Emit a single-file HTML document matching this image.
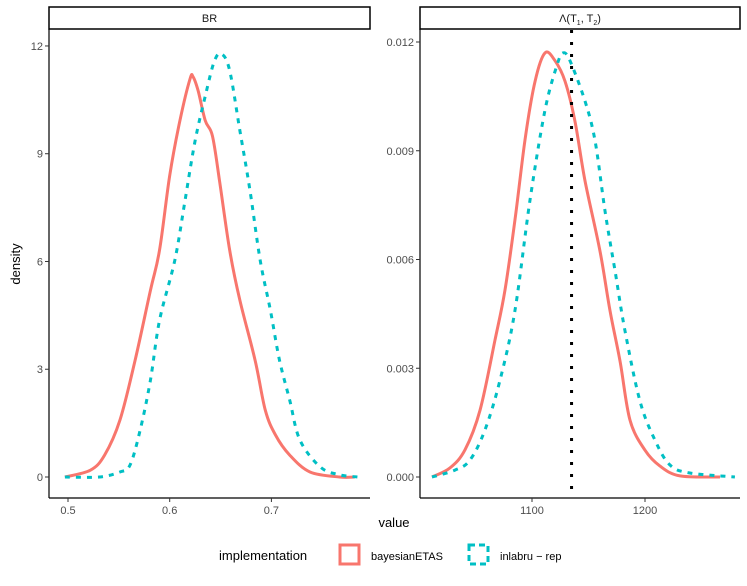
<!DOCTYPE html>
<html><head><meta charset="utf-8"><style>
body{margin:0;background:#fff;font-family:"Liberation Sans",sans-serif}
svg text{font-family:"Liberation Sans",sans-serif}
</style></head><body>
<svg id="c" width="747" height="581" xmlns="http://www.w3.org/2000/svg"></svg>
<script>
const brRedX=[0.497,0.522,0.536,0.551,0.566,0.581,0.590,0.600,0.610,0.620,0.623,0.628,0.635,0.642,0.649,0.659,0.669,0.684,0.694,0.704,0.718,0.738,0.767,0.782];
const brRedY=[0,0.19,0.61,1.58,3.25,5.19,6.31,8.39,9.92,11.08,11.14,10.75,9.92,9.5,8.25,6.31,4.92,3.25,1.86,1.17,0.61,0.14,0,0];
const brBlueX=[0.497,0.531,0.551,0.561,0.571,0.581,0.590,0.605,0.615,0.625,0.635,0.644,0.651,0.659,0.669,0.679,0.689,0.699,0.708,0.718,0.728,0.748,0.767,0.785];
const brBlueY=[0,0,0.14,0.33,1.31,2.69,4.36,6.03,7.69,9.36,10.61,11.58,11.78,11.31,9.64,7.97,6.03,4.64,3.25,2.14,1.03,0.28,0.06,0];
const lamRedX=[1011.5,1027.4,1040.7,1054,1067.3,1076.1,1085,1093.8,1102.7,1111.5,1120.4,1129.2,1138,1146.9,1160.2,1169,1177.9,1186.7,1200,1213.3,1231,1266.4];
const lamRedY=[0,0.00025,0.00075,0.00184,0.00378,0.00516,0.0071,0.0093,0.01092,0.0117,0.01148,0.01092,0.00982,0.00817,0.00623,0.00459,0.0032,0.00157,0.00074,0.0003,0.00003,0];
const lamBlueX=[1011.5,1031.9,1045.1,1058.4,1071.7,1085,1098.2,1111.5,1122.1,1127.4,1133.6,1146.9,1155.8,1164.6,1173.5,1182.3,1195.6,1208.8,1222.1,1239.8,1279.6];
const lamBlueY=[0,0.00019,0.00047,0.0013,0.00267,0.0046,0.00764,0.01012,0.01136,0.0117,0.01148,0.01037,0.00927,0.00734,0.00568,0.00403,0.00209,0.00102,0.00033,0.00011,0];
const trueValue=[1135];
const brXTicks=[0.5,0.6,0.7];
const brYTicks=[0,3,6,9,12];
const lamXTicks=[1100,1200];
const lamYTicks=[0,0.003,0.006,0.009,0.012];

const NS="http://www.w3.org/2000/svg";
const svg=document.getElementById('c');
function mk(t,a,txt){const e=document.createElementNS(NS,t);for(const k in a)e.setAttribute(k,a[k]);if(txt!==undefined)e.textContent=txt;svg.appendChild(e);return e;}
const RED="#F8766D",BLUE="#00BFC4";
const y0=477;
const bx=v=>68+(v-0.5)*1017, by=v=>y0-v*35.92;
const lx=v=>532+(v-1100)*1.13, ly=v=>y0-v*36250;

function panel(L,R,name){
  let s=mk('rect',{x:L,y:7,width:R-L,height:22,fill:'#fff',stroke:'#000','stroke-width':1.5});
  
  
}
panel(49,370,'br');
let t=mk('text',{x:209.5,y:22,'font-size':11,'text-anchor':'middle',fill:'#1a1a1a'},'BR');

panel(420,740,'lambda');
t=mk('text',{x:580,y:22,'font-size':11,'text-anchor':'middle',fill:'#1a1a1a'});
t.innerHTML='Λ(T<tspan font-size="7" dy="3">1</tspan><tspan dy="-3">, T</tspan><tspan font-size="7" dy="3">2</tspan><tspan dy="-3">)</tspan>';


function axes(L,R,xs,xt,ys,yt,fmt,name){
  let a=mk('line',{x1:L,y1:29,x2:L,y2:498,stroke:'#000','stroke-width':1.2});
  
  a=mk('line',{x1:L,y1:498,x2:R,y2:498,stroke:'#000','stroke-width':1.2});
  
  xt.forEach(v=>{const x=xs(v);mk('line',{x1:x,y1:498,x2:x,y2:502,stroke:'#333'});
    const e=mk('text',{x:x,y:514,'font-size':11,'text-anchor':'middle',fill:'#4d4d4d'},String(v));
    });
  yt.forEach(v=>{const y=ys(v);mk('line',{x1:L-4,y1:y,x2:L,y2:y,stroke:'#333'});
    const e=mk('text',{x:L-6,y:y+4,'font-size':11,'text-anchor':'end',fill:'#4d4d4d'},fmt(v));
    });
}
axes(49,370,bx,brXTicks,by,brYTicks,v=>String(v),'br');
axes(420,740,lx,lamXTicks,ly,lamYTicks,v=>v.toFixed(3),'lambda');

function line(xs,ys,X,Y,col,dash,name){
  const P=X.map((v,i)=>[xs(v),ys(Y[i])]);
  let d='M'+P[0][0].toFixed(1)+','+P[0][1].toFixed(1);
  for(let i=0;i<P.length-1;i++){
    const p0=P[Math.max(0,i-1)],p1=P[i],p2=P[i+1],p3=P[Math.min(P.length-1,i+2)];
    const c1=[p1[0]+(p2[0]-p0[0])/6,p1[1]+(p2[1]-p0[1])/6];
    const c2=[p2[0]-(p3[0]-p1[0])/6,p2[1]-(p3[1]-p1[1])/6];
    d+='C'+c1.map(n=>n.toFixed(1)).join(',')+' '+c2.map(n=>n.toFixed(1)).join(',')+' '+p2.map(n=>n.toFixed(1)).join(',');
  }
  const p=mk('path',{d:d,fill:'none',stroke:col,'stroke-width':3,'stroke-linejoin':'round'});
  if(dash)p.setAttribute('stroke-dasharray','5,6');
  
  
}
line(bx,by,brRedX,brRedY,RED,false,'br-bayesianetas-curve');
line(bx,by,brBlueX,brBlueY,BLUE,true,'br-inlabru-curve');
line(lx,ly,lamRedX,lamRedY,RED,false,'lambda-bayesianetas-curve');
line(lx,ly,lamBlueX,lamBlueY,BLUE,true,'lambda-inlabru-curve');
const vx=lx(trueValue[0]);
const vl=mk('line',{x1:vx,y1:30,x2:vx,y2:498,stroke:'#000','stroke-width':3,'stroke-dasharray':'3,9'});


t=mk('text',{x:394,y:527,'font-size':13,'text-anchor':'middle',fill:'#000'},'value');

t=mk('text',{x:20,y:264,'font-size':13,'text-anchor':'middle',fill:'#000',transform:'rotate(-90 20 264)'},'density');


t=mk('text',{x:219,y:560,'font-size':13,fill:'#000'},'implementation');

let r=mk('rect',{x:340,y:545,width:19,height:19,fill:'none',stroke:RED,'stroke-width':3});

t=mk('text',{x:371,y:560,'font-size':11,fill:'#000'},'bayesianETAS');

r=mk('rect',{x:469,y:545,width:19,height:19,fill:'none',stroke:BLUE,'stroke-width':3,'stroke-dasharray':'6,4'});

t=mk('text',{x:500,y:560,'font-size':11,fill:'#000'},'inlabru − rep');

</script>
</body></html>
